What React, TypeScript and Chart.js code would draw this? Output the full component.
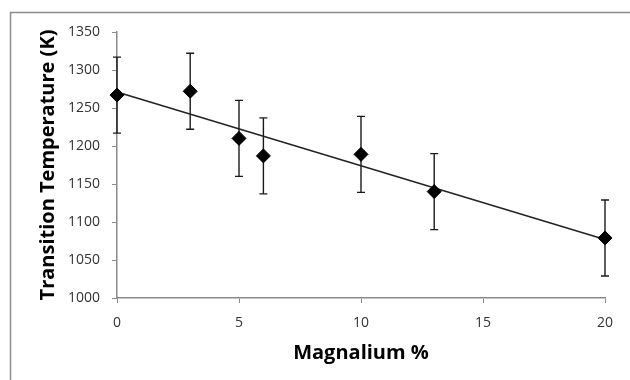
import React, { useEffect, useRef } from 'react';
import { Chart, registerables } from 'chart.js';

Chart.register(...registerables);

// ---- data ----
const magnalium: number[] = [0, 3, 5, 6, 10, 13, 20];
const temperature: number[] = [1267, 1272, 1210, 1187, 1189, 1140, 1079];
const errorAmount: number[] = [50, 50, 50, 50, 50, 50, 50];
const xTickValues: number[] = [0, 5, 10, 15, 20];
const yTickValues: number[] = [1000, 1050, 1100, 1150, 1200, 1250, 1300, 1350];
const xTitle = 'Magnalium %';
const yTitle = 'Transition Temperature (K)';

// linear least-squares trendline derived from the data
function linearFit(xs: number[], ys: number[]) {
  const n = xs.length;
  const mx = xs.reduce((a, b) => a + b, 0) / n;
  const my = ys.reduce((a, b) => a + b, 0) / n;
  let sxy = 0;
  let sxx = 0;
  for (let i = 0; i < n; i++) {
    sxy += (xs[i] - mx) * (ys[i] - my);
    sxx += (xs[i] - mx) * (xs[i] - mx);
  }
  const slope = sxy / sxx;
  return { slope, intercept: my - slope * mx };
}

const FONT = '"Open Sans", "Liberation Sans", sans-serif';
const AXIS_GRAY = '#8a8a8a';
const TICK_COLOR = '#333333';

const errorBarPlugin = {
  id: 'errorBars',
  beforeDatasetsDraw(chart: any) {
    const { ctx, scales } = chart;
    const xs = scales.x;
    const ys = scales.y;
    ctx.save();
    ctx.strokeStyle = '#1a1a1a';
    ctx.lineWidth = 1.4;
    for (let i = 0; i < magnalium.length; i++) {
      const px = xs.getPixelForValue(magnalium[i]);
      const top = ys.getPixelForValue(temperature[i] + errorAmount[i]);
      const bot = ys.getPixelForValue(temperature[i] - errorAmount[i]);
      ctx.beginPath();
      ctx.moveTo(px, top);
      ctx.lineTo(px, bot);
      ctx.moveTo(px - 4, top);
      ctx.lineTo(px + 4, top);
      ctx.moveTo(px - 4, bot);
      ctx.lineTo(px + 4, bot);
      ctx.stroke();
    }
    ctx.restore();
  },
};

const framePlugin = {
  id: 'frame',
  beforeDraw(chart: any) {
    const { ctx, width, height } = chart;
    ctx.save();
    ctx.fillStyle = '#ffffff';
    ctx.fillRect(0, 0, width, height);
    ctx.strokeStyle = '#8c8c8c';
    ctx.lineWidth = 1.5;
    ctx.beginPath();
    ctx.moveTo(10.5, height);
    ctx.lineTo(10.5, 12.5);
    ctx.lineTo(width, 12.5);
    ctx.stroke();
    ctx.restore();
  },
};

export default function App() {
  const canvasRef = useRef<HTMLCanvasElement | null>(null);

  useEffect(() => {
    if (!canvasRef.current) return;
    const fit = linearFit(magnalium, temperature);
    const xMin = xTickValues[0];
    const xMax = xTickValues[xTickValues.length - 1];
    const chart = new Chart(canvasRef.current, {
      type: 'scatter',
      data: {
        datasets: [
          {
            label: 'Transition temperature',
            data: magnalium.map((x, i) => ({ x, y: temperature[i] })),
            pointStyle: 'rectRot',
            pointRadius: 7,
            pointBackgroundColor: '#000000',
            pointBorderColor: '#000000',
            pointBorderWidth: 1,
            showLine: false,
            clip: false,
            order: 1,
          } as any,
          {
            label: 'Linear fit',
            type: 'line',
            data: [
              { x: xMin, y: fit.intercept + fit.slope * xMin },
              { x: xMax, y: fit.intercept + fit.slope * xMax },
            ],
            borderColor: '#222222',
            borderWidth: 1.5,
            pointRadius: 0,
            fill: false,
            clip: false,
            order: 2,
          } as any,
        ],
      },
      options: {
        responsive: false,
        animation: false,
        layout: { padding: { top: 32, right: 25, left: 0, bottom: 0 } },
        plugins: {
          legend: { display: false },
          tooltip: { enabled: false },
        },
        scales: {
          x: {
            type: 'linear',
            min: xMin,
            max: xMax,
            afterBuildTicks: (scale: any) => {
              scale.ticks = xTickValues.map((v) => ({ value: v }));
            },
            afterFit: (scale: any) => {
              scale.height = 82;
            },
            ticks: {
              color: TICK_COLOR,
              font: { family: FONT, size: 14 },
              padding: 12,
              maxRotation: 0,
              callback: (v: any) => String(v),
            },
            grid: {
              display: true,
              drawOnChartArea: false,
              drawTicks: true,
              tickLength: 5,
              color: AXIS_GRAY,
            },
            border: { display: true, color: AXIS_GRAY, width: 1.5 },
            title: {
              display: true,
              text: xTitle,
              color: '#000000',
              font: { family: FONT, size: 20, weight: 'bold' },
              padding: { top: 0, bottom: 15 },
            },
          },
          y: {
            type: 'linear',
            min: yTickValues[0],
            max: yTickValues[yTickValues.length - 1],
            afterBuildTicks: (scale: any) => {
              scale.ticks = yTickValues.map((v) => ({ value: v }));
            },
            afterFit: (scale: any) => {
              scale.width = 117;
            },
            ticks: {
              color: TICK_COLOR,
              font: { family: FONT, size: 14 },
              padding: 12,
              callback: (v: any) => String(v),
            },
            grid: {
              display: true,
              drawOnChartArea: false,
              drawTicks: true,
              tickLength: 5,
              color: AXIS_GRAY,
            },
            border: { display: true, color: AXIS_GRAY, width: 1.5 },
            title: {
              display: true,
              text: yTitle,
              color: '#000000',
              font: { family: FONT, size: 20, weight: 'bold' },
              padding: { top: 36, bottom: 0 },
            },
          },
        },
      },
      plugins: [framePlugin, errorBarPlugin],
    });
    return () => chart.destroy();
  }, []);

  return (
    <div style={{ position: 'fixed', left: 0, top: 0, width: 630, height: 380, background: '#fff' }}>
      <canvas ref={canvasRef} width={630} height={380} />
    </div>
  );
}
